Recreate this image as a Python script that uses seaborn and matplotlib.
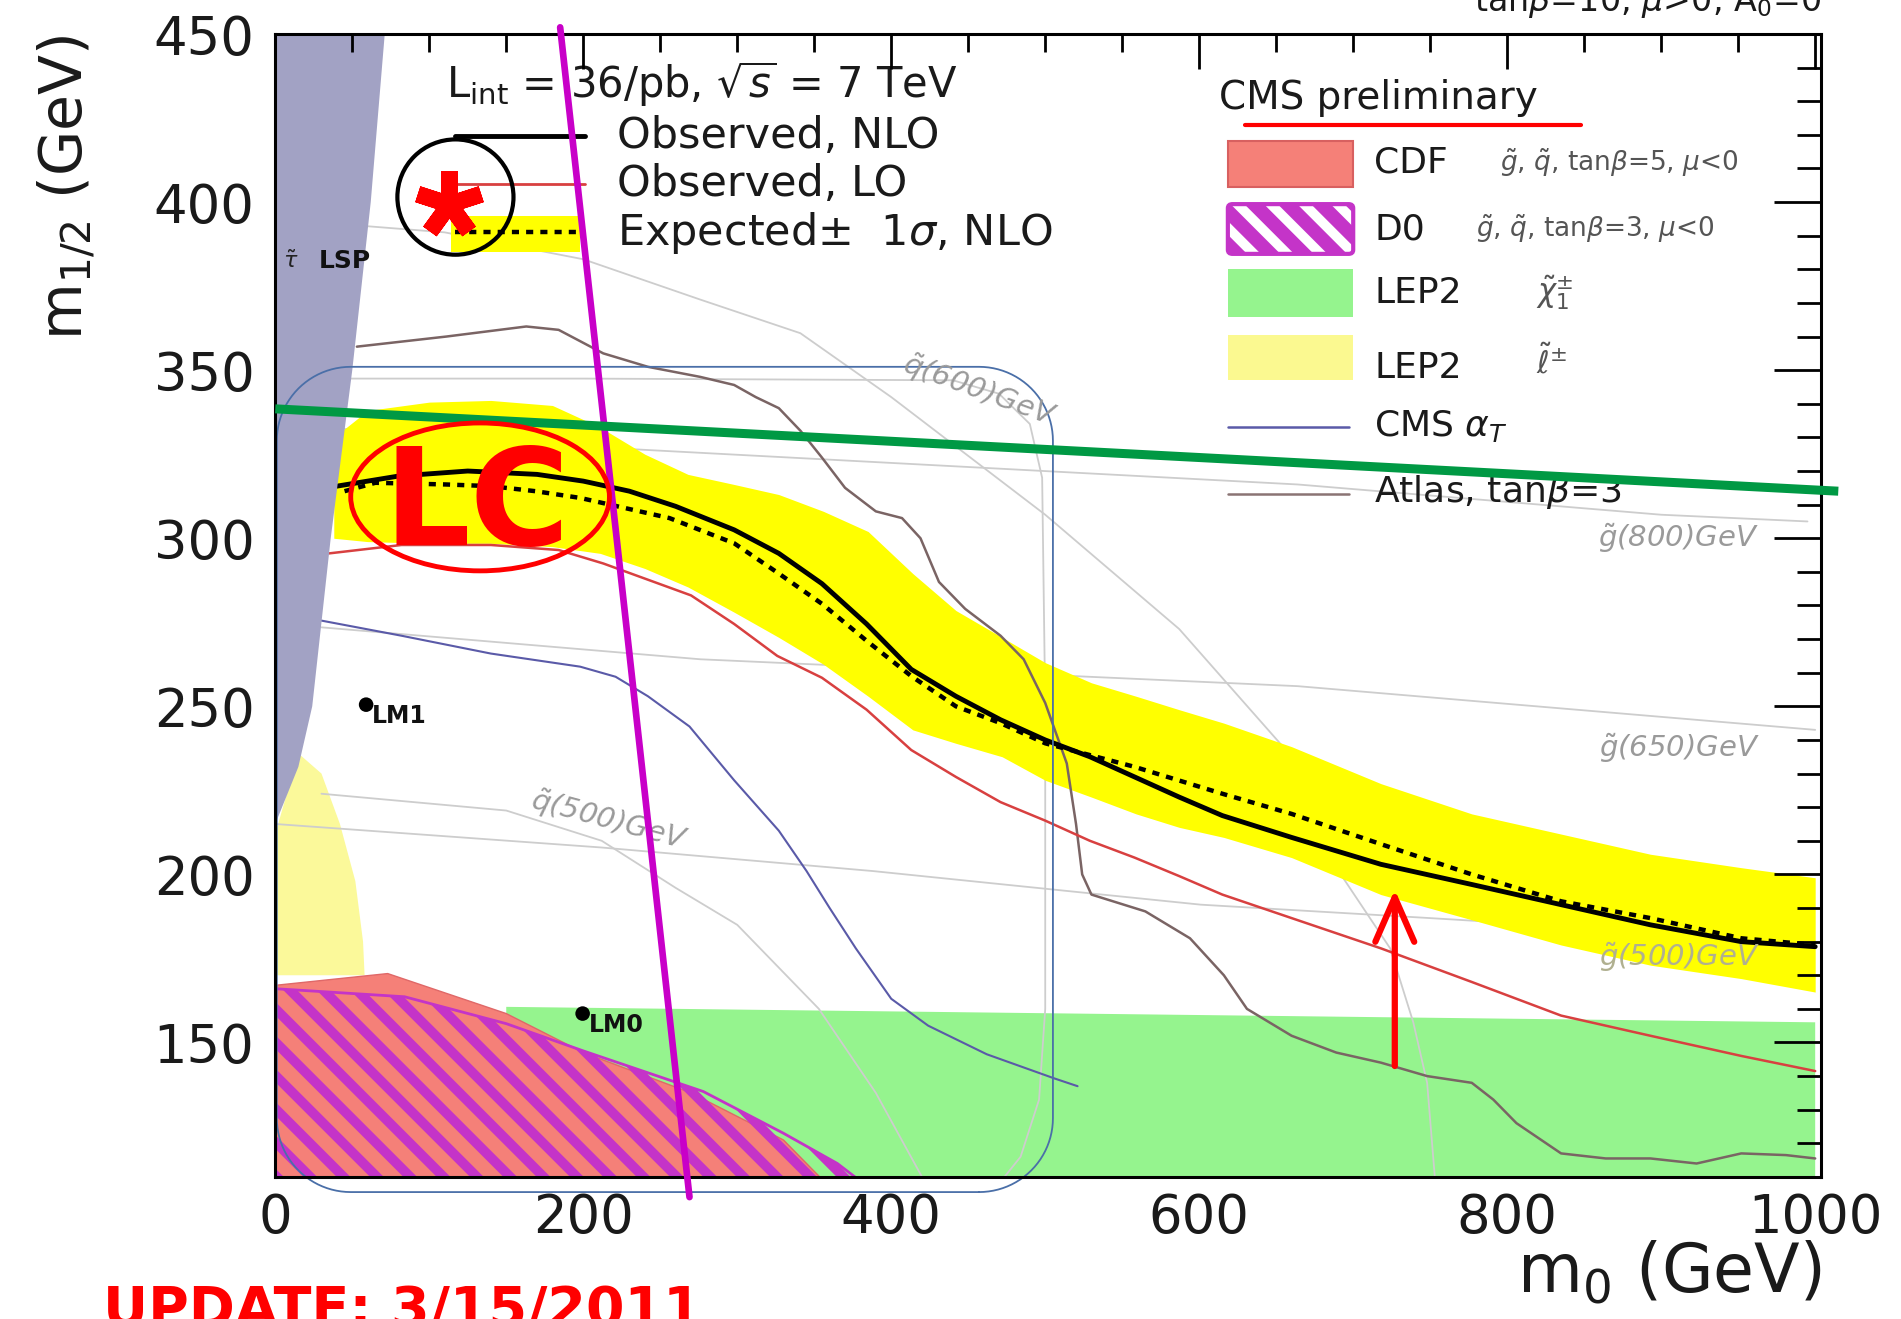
import numpy as np
import pandas as pd
import matplotlib
matplotlib.use("Agg")
import matplotlib.pyplot as plt
import matplotlib.font_manager as fm
from matplotlib.patches import Polygon, Ellipse, Rectangle, FancyBboxPatch
from matplotlib.ticker import MultipleLocator
import seaborn as sns

#%% data (m0, m1/2 in GeV)

# observed limit NLO (solid black)
nlo_m0 = [40, 80, 125, 170, 200, 230, 260, 298, 327, 355, 384, 413, 442, 471,
          500, 529, 558, 587, 615, 660, 718, 777, 835, 893, 952, 1000]
nlo_m12 = [315.5, 318.5, 320, 319, 317, 314, 309.5, 302.5, 295.5, 286.5, 274.5, 261,
           253, 246, 240, 235, 229, 223, 217.5, 211, 203, 197, 191, 185, 180, 178.5]

# expected limit NLO (dashed)
exp_m0 = [45, 65, 111, 140, 169, 198, 227, 256, 298, 327, 355, 384, 413, 442,
          471, 500, 558, 615, 660, 718, 777, 835, 893, 952, 1000]
exp_m12 = [314, 316.5, 316, 315.5, 314, 312, 309, 306, 298.5, 289.5, 280.5, 269.5,
           259, 250, 245, 239, 232, 224, 218, 209, 200, 192, 187, 181, 179]

# expected +-1 sigma band
band_m0 = [38, 60, 100, 140, 180, 211, 240, 268, 298, 327, 356, 385, 414, 442,
           472, 500, 530, 559, 587, 616, 660, 718, 777, 835, 893, 952, 1000]
band_hi = [330, 338, 340.5, 341, 339.5, 333, 325, 319, 316, 313, 308, 302, 289.5,
           278.5, 270.5, 263, 257, 253, 249, 245, 238, 227, 218, 212, 206, 202, 199]
band_lo = [300, 299, 298.5, 298.5, 297.5, 295.5, 291, 285.5, 278, 270.5, 262.5, 253,
           243, 239, 235, 228, 223, 218, 214, 211, 205, 194, 186.5, 179, 173, 169, 165]

# observed limit LO (red)
lo_m0 = [35, 82, 140, 184, 213, 240, 270, 298, 326, 355, 384, 413, 442, 471,
         500, 529, 558, 587, 615, 660, 718, 777, 835, 893, 952, 1000]
lo_m12 = [295.5, 298, 298, 296.5, 292.5, 288, 283, 274.5, 265, 258.5, 249, 237,
          229, 221.5, 216, 210, 205, 199.5, 194, 187, 178, 168, 158, 152, 146, 141.5]

# CMS alpha_T (blue)
alphat_m0 = [30, 82, 140, 198, 221, 242, 269, 298, 327, 345, 360, 377, 400, 424, 462, 506, 521]
alphat_m12 = [275.5, 271, 265.7, 261.8, 258.8, 253, 244, 228, 213, 201, 190, 178,
              163, 155, 146.5, 139.3, 137]

# Atlas tanb=3 (grey-brown)
atlas_m0 = [53, 111, 163, 184, 213, 242, 276, 298, 312, 327, 341, 355, 370, 390, 407,
            419, 431, 448, 471, 486, 500, 514, 520, 524, 530, 565, 594, 616, 631, 660,
            689, 718, 748, 777, 791, 806, 835, 864, 893, 923, 952, 981, 1000]
atlas_m12 = [357, 360, 363, 362, 355, 351, 348, 345.6, 342, 338.7, 332, 324, 315, 308,
             306, 300, 287, 279, 271, 264, 251, 233, 215, 200, 194, 189, 181, 170, 160,
             152, 147, 144, 140, 138, 133, 126, 117, 115.5, 115.5, 114, 117, 116.5, 115.5]

# iso-mass contours (light grey)
iso_upper_m0 = [0, 110, 200, 276, 341, 400, 500, 587, 664, 689, 724, 739, 748, 753]
iso_upper_m12 = [395, 391, 383, 371, 361, 342, 307, 273, 233, 202, 178, 156, 138, 110]
iso_g800_m0 = [30, 211, 664, 900, 995]
iso_g800_m12 = [333, 327, 316, 307, 305]
iso_g650_m0 = [30, 276, 664, 1000]
iso_g650_m12 = [273.5, 264, 256, 243]
iso_g500_m0 = [0, 212, 388, 601, 750, 1000]
iso_g500_m12 = [215, 208, 201, 191, 187, 180]
iso_q500_m0 = [30, 150, 212, 260, 300, 353, 390, 420]
iso_q500_m12 = [224, 219, 210, 196, 185, 160, 135, 110]
iso_q600_m0 = [45, 200, 440, 470, 490, 498, 500, 500, 496, 484, 470]
iso_q600_m12 = [347.5, 347.5, 347, 343, 334, 318, 250, 160, 133, 116, 108]

# excluded regions
lsp_m0 = [0, 72, 62, 50, 36, 24, 15, 0]
lsp_m12 = [455, 455, 400, 350, 300, 250, 232, 215]
lep_sl_m0 = [0, 15, 30, 42, 52, 57, 58, 0]
lep_sl_m12 = [212, 236, 230, 215, 198, 180, 170, 170]
lep_chi_m0 = [150, 1000, 1000, 150]
lep_chi_m12 = [160.6, 156, 100, 100]
cdf_m0 = [0, 0, 73, 150, 200, 270, 330, 375]
cdf_m12 = [100, 167, 170.5, 158.6, 147, 135, 121, 100]
d0_m0 = [0, 0, 84, 150, 200, 278, 330, 365, 405]
d0_m12 = [100, 166, 163.6, 155.6, 147.5, 135.4, 123, 114, 100]

# benchmark points
bench_name = ["LM1", "LM0"]
bench_m0 = [59, 199.6]
bench_m12 = [250.5, 158.6]

# CMS box (rounded) extents
box_m0 = [1, 505]
box_m12 = [105.5, 351]

#%% style
sns.set_theme(style="white")
plt.rcParams["font.family"] = ["DejaVu Sans"]
plt.rcParams["mathtext.fontset"] = "dejavusans"
plt.rcParams["hatch.linewidth"] = 7.0

narrow = any("Narrow" in f.name for f in fm.fontManager.ttflist)
big_family = ["Liberation Sans Narrow"] if narrow else ["Liberation Sans"]
lc_size = 98 if narrow else 84
upd_size = 40 if narrow else 33

fig = plt.figure(figsize=(19.01, 13.19), dpi=100)
ax = fig.add_axes([0.1448, 0.1077, 0.8133, 0.8665])

def line(xs, ys, **kw):
    df = pd.DataFrame({"m0": xs, "m12": ys})
    sns.lineplot(data=df, x="m0", y="m12", ax=ax, sort=False, estimator=None, **kw)

# filled regions
ax.fill(lep_chi_m0, lep_chi_m12, color="#95f48e", lw=0, zorder=2)
ax.fill(lep_sl_m0, lep_sl_m12, color="#fbf99a", lw=0, zorder=2)

for xs, ys in [(iso_upper_m0, iso_upper_m12), (iso_g800_m0, iso_g800_m12),
               (iso_g650_m0, iso_g650_m12), (iso_g500_m0, iso_g500_m12),
               (iso_q500_m0, iso_q500_m12), (iso_q600_m0, iso_q600_m12)]:
    line(xs, ys, color="#cdcdcd", lw=1.3, zorder=2.6)

ax.fill_between(band_m0, band_lo, band_hi, color="#ffff00", lw=0, zorder=3)
ax.fill(cdf_m0, cdf_m12, facecolor="#f58078", edgecolor="#e06868", lw=1, zorder=4)
ax.add_patch(Polygon(np.column_stack([d0_m0, d0_m12]), closed=True, facecolor="none",
                     edgecolor="#c434c8", hatch="\\", lw=2, zorder=5))

# limit curves
line(atlas_m0, atlas_m12, color="#7a6464", lw=1.8, zorder=6)
line(alphat_m0, alphat_m12, color="#5a5aa8", lw=1.5, zorder=6)
line(lo_m0, lo_m12, color="#d84040", lw=1.8, zorder=7)
line(exp_m0, exp_m12, color="black", lw=3.2, linestyle=(0, (1.6, 1.6)), zorder=8)
line(nlo_m0, nlo_m12, color="black", lw=3.5, zorder=8)

# LSP region
ax.fill(lsp_m0, lsp_m12, color="#a2a2c4", lw=0, zorder=9)

# rounded CMS box
t = np.linspace(0, np.pi / 2, 25)
rx, ry = 48, 22
x0, x1 = box_m0
y0, y1 = box_m12
bx = np.concatenate([x1 - rx + rx * np.sin(t), x1 - rx + rx * np.cos(t),
                     x0 + rx - rx * np.sin(t), x0 + rx - rx * np.cos(t), [x1 - rx]])
by = np.concatenate([y0 + ry - ry * np.cos(t), y1 - ry + ry * np.sin(t),
                     y1 - ry + ry * np.cos(t), y0 + ry - ry * np.sin(t), [y0]])
ax.plot(bx, by, color="#4a6fa8", lw=1.3, zorder=10, clip_on=False)

# benchmark points
sns.scatterplot(x=bench_m0, y=bench_m12, ax=ax, color="black", s=110, edgecolor="none", zorder=11)
for n, xm, ym in zip(bench_name, bench_m0, bench_m12):
    ax.text(xm + 4, ym - 3.5, n, fontsize=17, fontweight="bold", color="#111", va="center", zorder=11)

ax.text(5, 382.5, r"$\tilde{\tau}$", fontsize=16, color="#222", va="center", zorder=11)
ax.text(28, 382.5, "LSP", fontsize=18, fontweight="bold", color="#111", va="center", zorder=11)

# iso-mass labels
gcol = "#9a9a9a"
ax.text(457, 344, r"$\tilde{q}$(600)GeV", rotation=-20, fontsize=21, style="italic",
        color=gcol, ha="center", va="center", zorder=11)
ax.text(217, 216, r"$\tilde{q}$(500)GeV", rotation=-15, fontsize=21, style="italic",
        color=gcol, ha="center", va="center", zorder=11)
ax.text(911, 300, r"$\tilde{g}$(800)GeV", fontsize=21, style="italic", color=gcol,
        ha="center", va="center", zorder=11)
ax.text(912, 237.5, r"$\tilde{g}$(650)GeV", fontsize=21, style="italic", color=gcol,
        ha="center", va="center", zorder=11)
ax.text(912, 175.5, r"$\tilde{g}$(500)GeV", fontsize=21, style="italic", color="#b0b090",
        ha="center", va="center", zorder=11)

# left legend
tcol = "#1a1a1a"
ax.text(111, 431, r"L$_{\rm int}$ = 36/pb, $\sqrt{s}$ = 7 TeV", fontsize=30, color=tcol,
        va="baseline", zorder=12)
ax.add_patch(Rectangle((114, 385.3), 84, 10.7, color="#ffff00", lw=0, zorder=11))
ax.plot([117, 201], [419.6, 419.6], color="black", lw=3.5, zorder=12)
ax.plot([117, 201], [405.4, 405.4], color="#d84040", lw=2, zorder=12)
ax.plot([117, 198], [391, 391], color="black", lw=3.2, linestyle=(0, (1.6, 1.6)), zorder=12)
ax.text(222, 419.6, "Observed, NLO", fontsize=31, color=tcol, va="center", zorder=12)
ax.text(222, 405.4, "Observed, LO", fontsize=31, color=tcol, va="center", zorder=12)
ax.text(222, 390.7, r"Expected$\pm$  1$\sigma$, NLO", fontsize=31, color=tcol, va="center", zorder=12)

# right legend
ax.text(613, 431, "CMS preliminary", fontsize=28, color=tcol, va="center", zorder=12)
ax.add_patch(Rectangle((618.6, 404.4), 81.4, 13.7, facecolor="#f58078", edgecolor="#d86060",
                       lw=1.5, zorder=12))
ax.add_patch(Rectangle((618.6, 384.6), 81.4, 14.8, facecolor="#c434c8", edgecolor="white",
                       hatch="\\", lw=0, zorder=12))
ax.add_patch(FancyBboxPatch((618.6, 384.6), 81.4, 14.8, boxstyle="round,pad=0,rounding_size=3",
                            fill=False, edgecolor="#c434c8", lw=3, zorder=12, mutation_aspect=0.4))
ax.add_patch(Rectangle((618.6, 365.8), 81.4, 14.2, color="#95f48e", lw=0, zorder=12))
ax.add_patch(Rectangle((618.6, 347), 81.4, 13.6, color="#fbf990", lw=0, zorder=12))
ax.plot([619, 697], [333, 333], color="#5a5aa8", lw=1.8, zorder=12)
ax.plot([619, 697], [313.2, 313.2], color="#8a7474", lw=1.8, zorder=12)

mcol = "#555555"
ax.text(713.7, 411.7, "CDF", fontsize=26, color=tcol, va="center", zorder=12)
ax.text(795, 411.7, r"$\tilde{g}$, $\tilde{q}$, tan$\beta$=5, $\mu$<0", fontsize=19,
        color=mcol, va="center", zorder=12)
ax.text(713.7, 391.9, "D0", fontsize=26, color=tcol, va="center", zorder=12)
ax.text(780, 391.9, r"$\tilde{g}$, $\tilde{q}$, tan$\beta$=3, $\mu$<0", fontsize=19,
        color=mcol, va="center", zorder=12)
ax.text(713.7, 373.1, "LEP2", fontsize=26, color=tcol, va="center", zorder=12)
ax.text(819, 373.1, r"$\tilde{\chi}^{\pm}_{1}$", fontsize=22, color=mcol, va="center", zorder=12)
ax.text(713.7, 350.7, "LEP2", fontsize=26, color=tcol, va="center", zorder=12)
ax.text(819, 352.5, r"$\tilde{\ell}^{\pm}$", fontsize=22, color=mcol, va="center", zorder=12)
ax.text(713.7, 333.5, r"CMS $\alpha_T$", fontsize=26, color=tcol, va="center", zorder=12)
ax.text(713.7, 313.8, r"Atlas, tan$\beta$=3", fontsize=26, color=tcol, va="center", zorder=12)

fig.text(0.958, 0.9915, r"tan$\beta$=10, $\mu$>0, A$_0$=0", ha="right", va="baseline",
         fontsize=24, color=tcol)

# axes cosmetics
ax.set_xlim(0, 1004)
ax.set_ylim(110, 450)
ax.set_xlabel("")
ax.set_ylabel("")
ax.xaxis.set_major_locator(MultipleLocator(200))
ax.xaxis.set_minor_locator(MultipleLocator(50))
ax.yaxis.set_major_locator(MultipleLocator(50))
ax.yaxis.set_minor_locator(MultipleLocator(10))
ax.tick_params(which="both", direction="in", top=True, right=True, width=2,
               color="black", labelsize=38, labelcolor=tcol)
ax.tick_params(axis="x", which="major", length=25, pad=11)
ax.tick_params(axis="x", which="minor", length=13)
ax.tick_params(axis="y", which="major", length=34, pad=15)
ax.tick_params(axis="y", which="minor", length=17)
ax.xaxis.set_zorder(15)
ax.yaxis.set_zorder(15)
for s in ax.spines.values():
    s.set_linewidth(2.2)
    s.set_color("black")
    s.set_zorder(15)

ax.text(1.0, -0.101, r"m$_0$ (GeV)", transform=ax.transAxes, ha="right", va="baseline",
        fontsize=48, color=tcol)
ax.text(-0.135, 1.0, r"m$_{1/2}$ (GeV)", transform=ax.transAxes, rotation=90,
        ha="center", va="top", fontsize=42, color=tcol)

#%% hand-drawn annotations on top
ax.plot([185, 269], [452, 104], color="#c800c8", lw=4.8, clip_on=False, zorder=30)
ax.plot([0, 1015], [338.5, 314], color="#009944", lw=6.5, clip_on=False, zorder=30,
        solid_capstyle="butt")
ax.add_patch(Ellipse((133, 312.3), 168, 44, fill=False, ec="#ff0000", lw=3.5, zorder=31))
ax.text(131, 298, "LC", color="#ff0000", fontsize=lc_size, fontweight="bold",
        family=big_family, ha="center", va="baseline", zorder=32)
ax.add_patch(Ellipse((117, 401.5), 75.4, 34.3, fill=False, ec="black", lw=3, zorder=31))
ax.plot([113], [399.5], marker=(5, 2, 0), ms=48, mew=12, color="#ff0000", zorder=32)
ax.plot([630, 848], [423, 423], color="#ff0000", lw=3, zorder=30)
ax.annotate("", xy=(727, 195.5), xytext=(727, 143),
            arrowprops=dict(arrowstyle="->,head_length=0.8,head_width=0.35", color="#ff0000",
                            lw=4.5, mutation_scale=40, shrinkA=0, shrinkB=0), zorder=30)
fig.text(0.054, -0.006, "UPDATE: 3/15/2011", color="#ff0000", fontsize=upd_size,
         fontweight="bold", family=big_family, va="baseline")

plt.savefig("out.png", dpi=100)
